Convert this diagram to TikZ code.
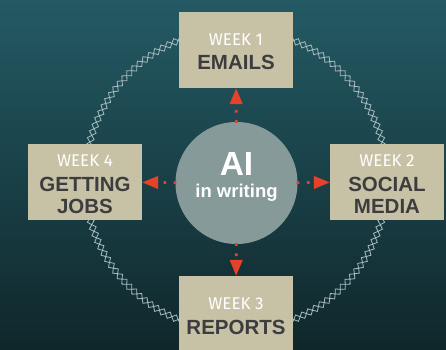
\documentclass[tikz,border=0pt]{standalone}
\usepackage{fontspec}
\setmainfont{Fira Sans}
\newfontfamily\titlefont{Liberation Sans}
\usetikzlibrary{arrows.meta}
\definecolor{bgtop}{HTML}{245A64}
\definecolor{bgbot}{HTML}{0F272B}
\definecolor{boxc}{HTML}{C7C2A5}
\definecolor{txtc}{HTML}{3D3D3F}
\definecolor{circc}{HTML}{869A9A}
\definecolor{arrc}{HTML}{E8412A}
\definecolor{ringc}{HTML}{A9BEC0}
\tikzset{
  weekbox/.style={rectangle, fill=boxc, minimum width=114pt, minimum height=76pt, inner sep=0pt, align=center},
  aicirc/.style={circle, fill=circc, minimum size=122pt, inner sep=0pt, align=center},
  arr/.style={draw=arrc, line width=2.6pt, dash pattern=on 2.6pt off 7.6pt, -{Triangle[length=16pt,width=12.5pt,fill=arrc]}, shorten <=-1pt},
  wk/.style={font=\fontsize{17}{17}\selectfont, text=white},
  ttl/.style={font=\titlefont\fontsize{20.5}{20.5}\selectfont\bfseries, text=txtc},
  link/.style={draw=ringc, line width=0.8pt}
}
\begin{document}
\begin{tikzpicture}[x=1pt,y=-1pt]
\shade[top color=bgtop, bottom color=bgbot] (0,0) rectangle (446,349);
\useasboundingbox (0,0) rectangle (446,349);
\coordinate (c) at (236,180);
% chain ring
\foreach \a in {0,2.647,...,359} {
  \draw[link, shift={(c)}, rotate=\a] (151,-3.5) -- (154.5,0) -- (151,3.5) -- (147.5,0) -- cycle;
}
\node[aicirc] (ai) at (236.5,183) {};
\node[text=white, font=\titlefont\fontsize{33.5}{33.5}\selectfont\bfseries] (ait) at (236.5,164) {AI};
\node[text=white, font=\titlefont\fontsize{18.5}{18.5}\selectfont\bfseries] (aiw) at (236.5,193) {in writing};
\node[weekbox] (w1) at (236,50) {};
\node[weekbox] (w2) at (387,182) {};
\node[weekbox] (w3) at (236,314) {};
\node[weekbox] (w4) at (85,182) {};
\node[wk] (w1a) at (236,40) {WEEK 1};
\node[ttl] (w1b) at (236,62) {EMAILS};
\node[wk] (w2a) at (387,161) {WEEK 2};
\node[ttl] (w2b) at (387,184) {SOCIAL};
\node[ttl] (w2c) at (387,206) {MEDIA};
\node[wk] (w3a) at (236,304) {WEEK 3};
\node[ttl] (w3b) at (236,327) {REPORTS};
\node[wk] (w4a) at (85,161) {WEEK 4};
\node[ttl] (w4b) at (85,184) {GETTING};
\node[ttl] (w4c) at (85,206) {JOBS};
\draw[arr] (ai) -- (w1);
\draw[arr] (ai) -- (w2);
\draw[arr] (ai) -- (w3);
\draw[arr] (ai) -- (w4);
\end{tikzpicture}
\end{document}
